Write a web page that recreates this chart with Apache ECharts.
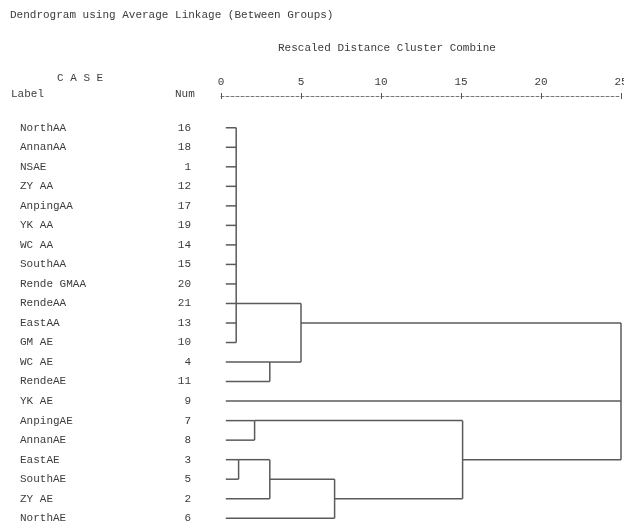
<!DOCTYPE html>
<html>
<head>
<meta charset="utf-8">
<script src="https://cdn.jsdelivr.net/npm/echarts@6/dist/echarts.min.js"></script>
<style>
html,body{margin:0;padding:0;background:#fff;}
#chart{width:624px;height:528px;}
</style>
</head>
<body>
<div id="chart"></div>
<script>
// ---- data ----
const caseLabels = ['NorthAA','AnnanAA','NSAE','ZY AA','AnpingAA','YK AA','WC AA','SouthAA','Rende GMAA','RendeAA','EastAA','GM AE','WC AE','RendeAE','YK AE','AnpingAE','AnnanAE','EastAE','SouthAE','ZY AE','NorthAE'];
const caseNums = ['16','18','1','12','17','19','14','15','20','21','13','10','4','11','9','7','8','3','5','2','6'];
const tickValues = [0, 5, 10, 15, 20, 25];
const leafStart = 0.3;
// merges: children are leaf row indices or names of earlier merges
const mergeNames    = ['A', 'B', 'AB', 'C1', 'C2', 'C3', 'C4', 'C', 'All'];
const mergeChildren = [[0,1,2,3,4,5,6,7,8,9,10,11], [12,13], ['A','B'], [15,16], [17,18], ['C2',19], ['C3',20], ['C1','C4'], ['AB',14,'C']];
const mergeHeights  = [0.95, 3.05, 5.0, 2.1, 1.1, 3.05, 7.1, 15.1, 25];
const mergeExitRows = [9, 12, 10, 15, 17, 18, 19, 17, 14];

// ---- build segments in data coordinates ----
const nodeInfo = {};
const segments = [];
mergeNames.forEach(function (name, i) {
  const h = mergeHeights[i];
  const rows = [];
  mergeChildren[i].forEach(function (c) {
    let row, start;
    if (typeof c === 'number') { row = c; start = leafStart; }
    else { row = nodeInfo[c].row; start = nodeInfo[c].height; }
    rows.push(row);
    segments.push([start, row, h, row]);
  });
  segments.push([h, Math.min.apply(null, rows), h, Math.max.apply(null, rows)]);
  nodeInfo[name] = { row: mergeExitRows[i], height: h };
});

const FONT = '"Liberation Mono", "DejaVu Sans Mono", monospace';
const TXT = '#3c3c3c';
const LINE = '#5a5a5a';

const chart = echarts.init(document.getElementById('chart'), null, { renderer: 'canvas' });
const gridLeft = 221, gridTop = 118;
chart.setOption({
  animation: false,
  backgroundColor: '#fff',
  grid: { left: gridLeft, right: 3, top: gridTop, bottom: 0, containLabel: false, outerBoundsMode: 'none' },
  xAxis: [{
    type: 'value', position: 'top', min: 0, max: 25, interval: 5, offset: 22,
    axisLine: { show: true, lineStyle: { color: '#777', type: [3, 2], width: 1 } },
    axisTick: { show: true, inside: false, length: 3, lineStyle: { color: '#555', width: 1 } },
    axisLabel: { show: true, margin: 8, fontFamily: FONT, fontSize: 11, color: TXT,
      formatter: function (v) { return tickValues.indexOf(v) >= 0 ? String(v) : ''; } },
    splitLine: { show: false }
  }, {
    type: 'value', position: 'top', min: 0, max: 25, interval: 5, offset: 22,
    axisLine: { show: false },
    axisTick: { show: true, inside: true, length: 3, lineStyle: { color: '#555', width: 1 } },
    axisLabel: { show: false },
    splitLine: { show: false }
  }],
  yAxis: [{
    type: 'category', data: caseLabels, inverse: true, position: 'left',
    axisLine: { show: false }, axisTick: { show: false },
    axisLabel: { align: 'left', margin: gridLeft - 20, fontFamily: FONT, fontSize: 11, color: TXT, interval: 0 }
  }, {
    type: 'category', data: caseNums, inverse: true, position: 'left',
    axisLine: { show: false }, axisTick: { show: false },
    axisLabel: { align: 'right', margin: gridLeft - 191, fontFamily: FONT, fontSize: 11, color: TXT, interval: 0 }
  }],
  graphic: [
    { type: 'text', left: 10, top: 10, style: { text: 'Dendrogram using Average Linkage (Between Groups)', font: '11px ' + FONT, fill: TXT } },
    { type: 'text', left: 278, top: 43, style: { text: 'Rescaled Distance Cluster Combine', font: '11px ' + FONT, fill: TXT } },
    { type: 'text', left: 57, top: 73, style: { text: 'C A S E', font: '11px ' + FONT, fill: TXT } },
    { type: 'text', left: 11, top: 89, style: { text: 'Label', font: '11px ' + FONT, fill: TXT } },
    { type: 'text', left: 175, top: 89, style: { text: 'Num', font: '11px ' + FONT, fill: TXT } }
  ],
  series: [{
    type: 'custom',
    xAxisIndex: 0, yAxisIndex: 0,
    data: segments,
    clip: false,
    renderItem: function (params, api) {
      const p1 = api.coord([api.value(0), api.value(1)]);
      const p2 = api.coord([api.value(2), api.value(3)]);
      return {
        type: 'line',
        shape: { x1: p1[0], y1: p1[1], x2: p2[0], y2: p2[1] },
        style: { stroke: LINE, lineWidth: 1.5 }
      };
    }
  }]
});
</script>
</body>
</html>
